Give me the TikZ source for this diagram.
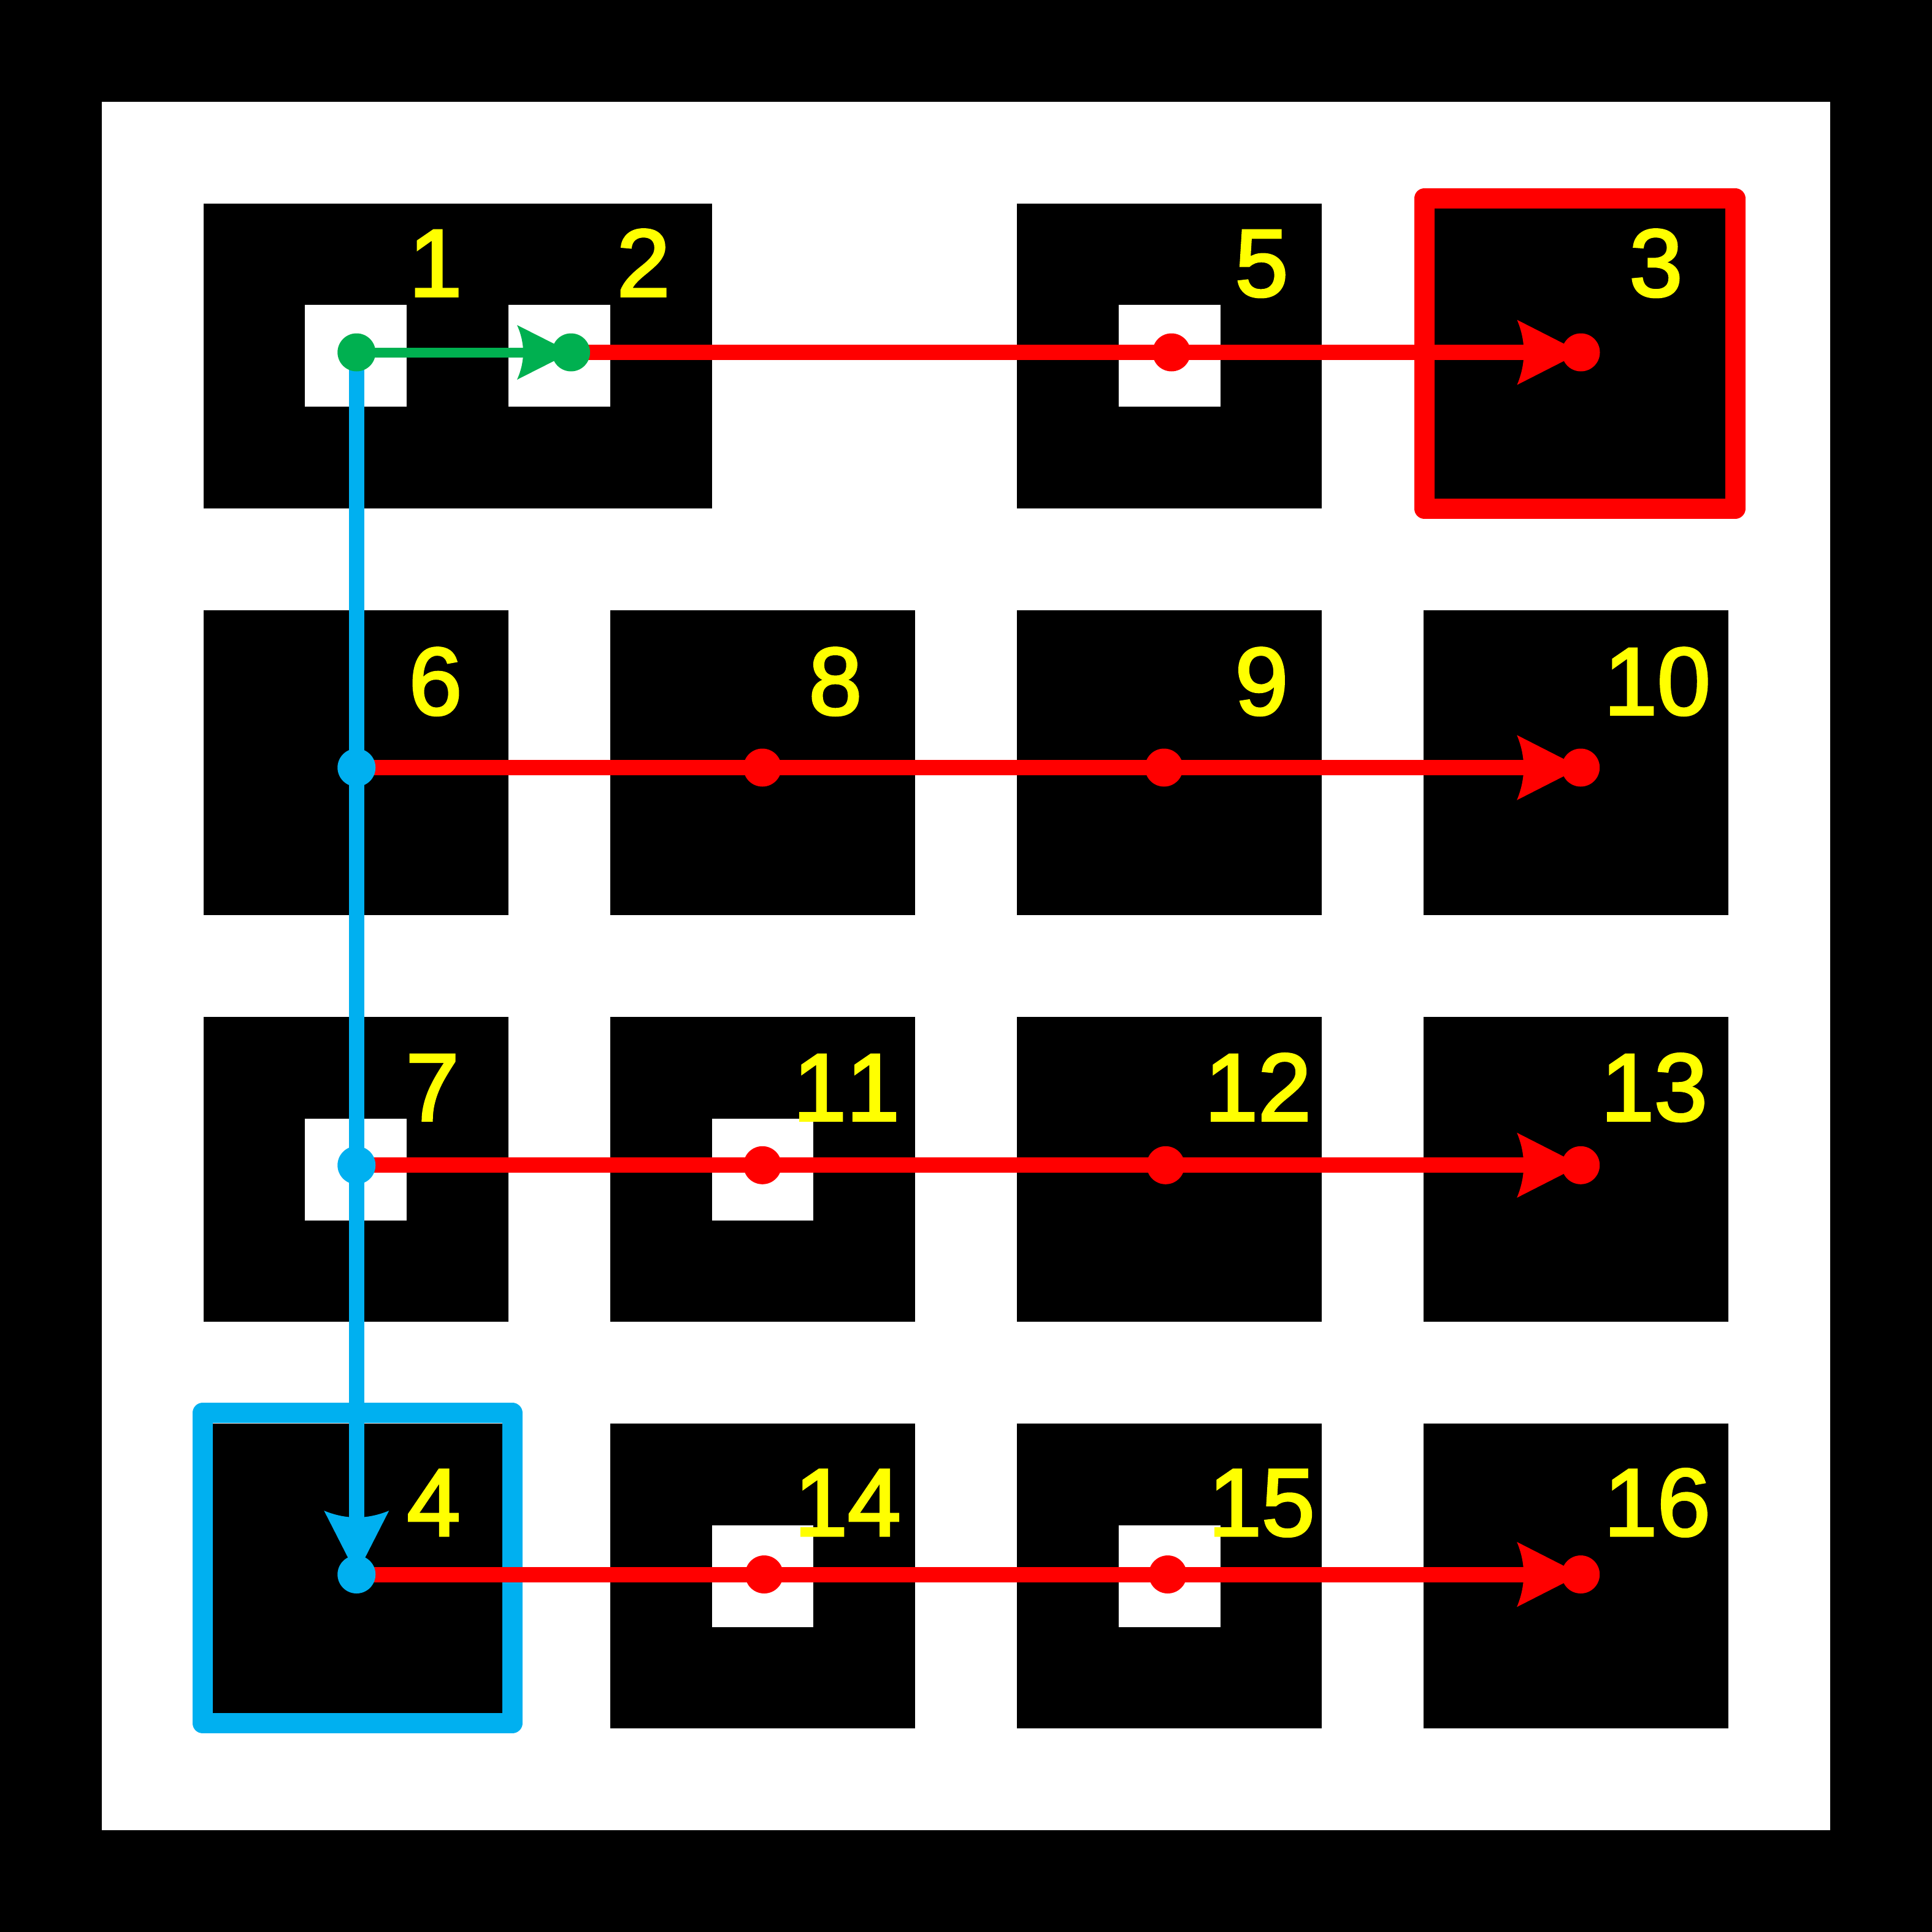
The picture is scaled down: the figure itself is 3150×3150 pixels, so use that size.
\documentclass[tikz,border=0pt]{standalone}
\usepackage{fontspec}
\setmainfont{Liberation Sans}
\newfontfamily\labelfont[FakeBold=2.5,Kerning=Off]{Liberation Sans}
\usetikzlibrary{arrows.meta}
\definecolor{pred}{HTML}{FF0000}
\definecolor{pblue}{HTML}{00B0F0}
\definecolor{pgreen}{HTML}{00B050}
\definecolor{pyellow}{HTML}{FFFF00}
\pgfdeclarelayer{bg}
\pgfdeclarelayer{lines}
\pgfsetlayers{bg,lines,main}
\pgfdeclarearrow{
  name = CStealth,
  parameters = {\the\pgfarrowlength,\the\pgfarrowwidth,\the\pgfarrowinset},
  setup code = {
    \pgfarrowssettipend{0pt}
    \pgfarrowssetbackend{-\pgfarrowlength}
    \pgfarrowssetlineend{-0.5\pgfarrowlength}
    \pgfarrowssavethe\pgfarrowlength
    \pgfarrowssavethe\pgfarrowwidth
    \pgfarrowssavethe\pgfarrowinset
  },
  drawing code = {
    \pgfpathmoveto{\pgfpoint{0pt}{0pt}}
    \pgfpathlineto{\pgfpoint{-\pgfarrowlength}{0.5\pgfarrowwidth}}
    \pgfpathquadraticcurveto{\pgfpoint{-\pgfarrowlength+2\pgfarrowinset}{0pt}}{\pgfpoint{-\pgfarrowlength}{-0.5\pgfarrowwidth}}
    \pgfpathclose
    \pgfusepathqfill
  },
  defaults = {length=104pt, width=106pt, inset=11pt}
}
\begin{document}
\begin{tikzpicture}[x=1pt,y=-1pt,
  dot/.style={circle,inner sep=0pt,minimum size=62pt,draw=none},
  lbl/.style={anchor=base,inner sep=0pt,text=pyellow,font=\labelfont\fontsize{156pt}{160pt}\selectfont},
  bigtip/.style={-{CStealth[length=104pt,width=106pt,inset=11pt]}},
  smalltip/.style={-{CStealth[length=88pt,width=89pt,inset=10pt]}},
  rline/.style={draw=pred,line width=25pt,bigtip},
  bline/.style={draw=pblue,line width=25pt,bigtip},
  gline/.style={draw=pgreen,line width=16pt,smalltip},
  frame/.style={line width=33pt,line join=round}]
\useasboundingbox (0,0) rectangle (3150,3150);
\begin{pgfonlayer}{bg}
  \fill[black] (0,0) rectangle (3150,3150);
  \fill[white] (166,166) rectangle (2984,2984);
  \begin{scope}[x=165.79pt,y=-165.79pt]
    % black cells
    \fill[black] (2,2) rectangle (7,5);
    \fill[black] (10,2) rectangle (13,5);
    \fill[black] (14,2) rectangle (17,5);
    \foreach \r in {6,10,14} {
      \foreach \c in {2,6,10,14} {
        \fill[black] (\c,\r) rectangle ++(3,3);
      }
    }
    % white holes
    \fill[white] (3,3) rectangle (4,4);
    \fill[white] (5,3) rectangle (6,4);
    \fill[white] (11,3) rectangle (12,4);
    \fill[white] (3,11) rectangle (4,12);
    \fill[white] (7,11) rectangle (8,12);
    \fill[white] (7,15) rectangle (8,16);
    \fill[white] (11,15) rectangle (12,16);
  \end{scope}
  \draw[frame,pred] (2322.3,323.4) rectangle (2829,829.3);
  \draw[frame,pblue] (330.5,2303.6) rectangle (835,2809.7);
\end{pgfonlayer}

% dots
\node[dot,fill=pgreen] (d1) at (581.3,574.5) {};
\node[dot,fill=pgreen] (d2) at (931,574.5) {};
\node[dot,fill=pred] (d5) at (1910,574.5) {};
\node[dot,fill=pred] (d3) at (2577.5,574.5) {};
\node[dot,fill=pblue] (d6) at (581.3,1251.5) {};
\node[dot,fill=pred] (d8) at (1243,1251.5) {};
\node[dot,fill=pred] (d9) at (1897.8,1251.5) {};
\node[dot,fill=pred] (d10) at (2577.2,1251.5) {};
\node[dot,fill=pblue] (d7) at (581.3,1899.8) {};
\node[dot,fill=pred] (d11) at (1243.1,1899.8) {};
\node[dot,fill=pred] (d12) at (1900.4,1899.8) {};
\node[dot,fill=pred] (d13) at (2577.2,1899.8) {};
\node[dot,fill=pblue] (d4) at (581.3,2567) {};
\node[dot,fill=pred] (d14) at (1245.9,2567) {};
\node[dot,fill=pred] (d15) at (1903.9,2567) {};
\node[dot,fill=pred] (d16) at (2577.2,2567) {};

% labels
\node[lbl] (l1) at (710,483) {1};
\node[lbl] (l2) at (1049,483) {2};
\node[lbl] (l5) at (2057,483) {5};
\node[lbl] (l3) at (2700,483) {3};
\node[lbl] (l6) at (710,1165) {6};
\node[lbl] (l8) at (1362,1165) {8};
\node[lbl] (l9) at (2057,1165) {9};
\node[lbl] (l10) at (2702,1165) {10};
\node[lbl] (l7) at (705,1826.8) {7};
\node[lbl] (l11) at (1380,1826.8) {11};
\node[lbl] (l12) at (2051,1826.8) {12};
\node[lbl] (l13) at (2697,1826.8) {13};
\node[lbl] (l4) at (707,2503.7) {4};
\node[lbl] (l14) at (1382,2503.7) {14};
\node[lbl] (l15) at (2057,2503.7) {15};
\node[lbl] (l16) at (2702,2503.7) {16};

% connectors
\begin{pgfonlayer}{lines}
  \draw[rline] (d2.center) -- (d5.center) -- (d3.center);
  \draw[rline] (d6.center) -- (d8.center) -- (d9.center) -- (d10.center);
  \draw[rline] (d7.center) -- (d11.center) -- (d12.center) -- (d13.center);
  \draw[rline] (d4.center) -- (d14.center) -- (d15.center) -- (d16.center);
  \draw[bline] (d1.center) -- (d6.center) -- (d7.center) -- (d4.center);
  \draw[gline] (d1.center) -- (d2.center);
\end{pgfonlayer}
\end{tikzpicture}
\end{document}
